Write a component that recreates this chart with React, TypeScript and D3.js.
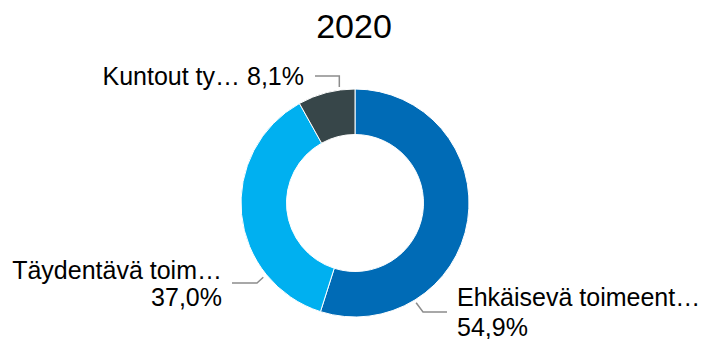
import React, { useEffect, useRef } from 'react';
import * as d3 from 'd3';

const title = '2020';
const categories = ['Ehkäisevä toimeent…', 'Täydentävä toim…', 'Kuntout ty…'];
const values = [54.9, 37.0, 8.1];
const colors = ['#006BB6', '#00B0F0', '#374649'];

const App: React.FC = () => {
  const svgRef = useRef<SVGSVGElement>(null);

  useEffect(() => {
    if (!svgRef.current) return;
    const svg = d3.select(svgRef.current);
    svg.selectAll('*').remove();

    const cx = 355;
    const cy = 203;
    const outer = 114;
    const inner = 68.5;
    const font = '"Liberation Sans", Arial, sans-serif';

    svg.append('text')
      .attr('x', 354)
      .attr('y', 38)
      .attr('text-anchor', 'middle')
      .attr('font-family', font)
      .attr('font-size', 34)
      .attr('fill', '#000')
      .text(title);

    const data = categories.map((c, i) => ({ name: c, value: values[i], color: colors[i] }));

    const pie = d3.pie<{ name: string; value: number; color: string }>()
      .sort(null)
      .value(d => d.value)
      .startAngle(0)
      .endAngle(2 * Math.PI);

    const arc = d3.arc<d3.PieArcDatum<{ name: string; value: number; color: string }>>()
      .innerRadius(inner)
      .outerRadius(outer);

    const g = svg.append('g').attr('transform', `translate(${cx},${cy})`);

    g.selectAll('path')
      .data(pie(data))
      .join('path')
        .attr('d', arc)
        .attr('fill', d => d.data.color)
        .attr('stroke', '#fff')
        .attr('stroke-width', 1);

    // leader lines + labels, placed per slice like the original
    const fmt = (v: number) => v.toFixed(1).replace('.', ',') + '%';
    const layout = [
      { angle: 148.5, r: 117, elbow: [423, 312], end: 447, anchor: 'start', x: 457, lines: [306, 335.5], single: false },
      { angle: 231, r: 118, elbow: [257, 283], end: 232, anchor: 'end', x: 222, lines: [279, 306], single: false },
      { angle: 352.3, r: 117, elbow: [0, 76], end: 315, anchor: 'end', x: 304, lines: [84.5], single: true },
    ];

    data.forEach((d, i) => {
      const l = layout[i];
      const a = (l.angle * Math.PI) / 180;
      const px = cx + l.r * Math.sin(a);
      const py = cy - l.r * Math.cos(a);
      const ex = l.single ? px : l.elbow[0];
      const ey = l.elbow[1];
      svg.append('path')
        .attr('d', d3.line()([[px, py], [ex, ey], [l.end, ey]]))
        .attr('fill', 'none')
        .attr('stroke', '#8c8c8c')
        .attr('stroke-width', 1.5);

      const t = svg.append('text')
        .attr('font-family', font)
        .attr('font-size', 25)
        .attr('fill', '#000')
        .attr('text-anchor', l.anchor);
      if (l.single) {
        t.append('tspan').attr('x', l.x).attr('y', l.lines[0]).text(`${d.name} ${fmt(d.value)}`);
      } else {
        t.append('tspan').attr('x', l.x).attr('y', l.lines[0]).text(d.name);
        t.append('tspan').attr('x', l.x).attr('y', l.lines[1]).text(fmt(d.value));
      }
    });
  }, []);

  return (
    <svg
      ref={svgRef}
      width={702}
      height={339}
      style={{ position: 'absolute', left: 0, top: 0, background: '#fff' }}
    />
  );
};

export default App;
